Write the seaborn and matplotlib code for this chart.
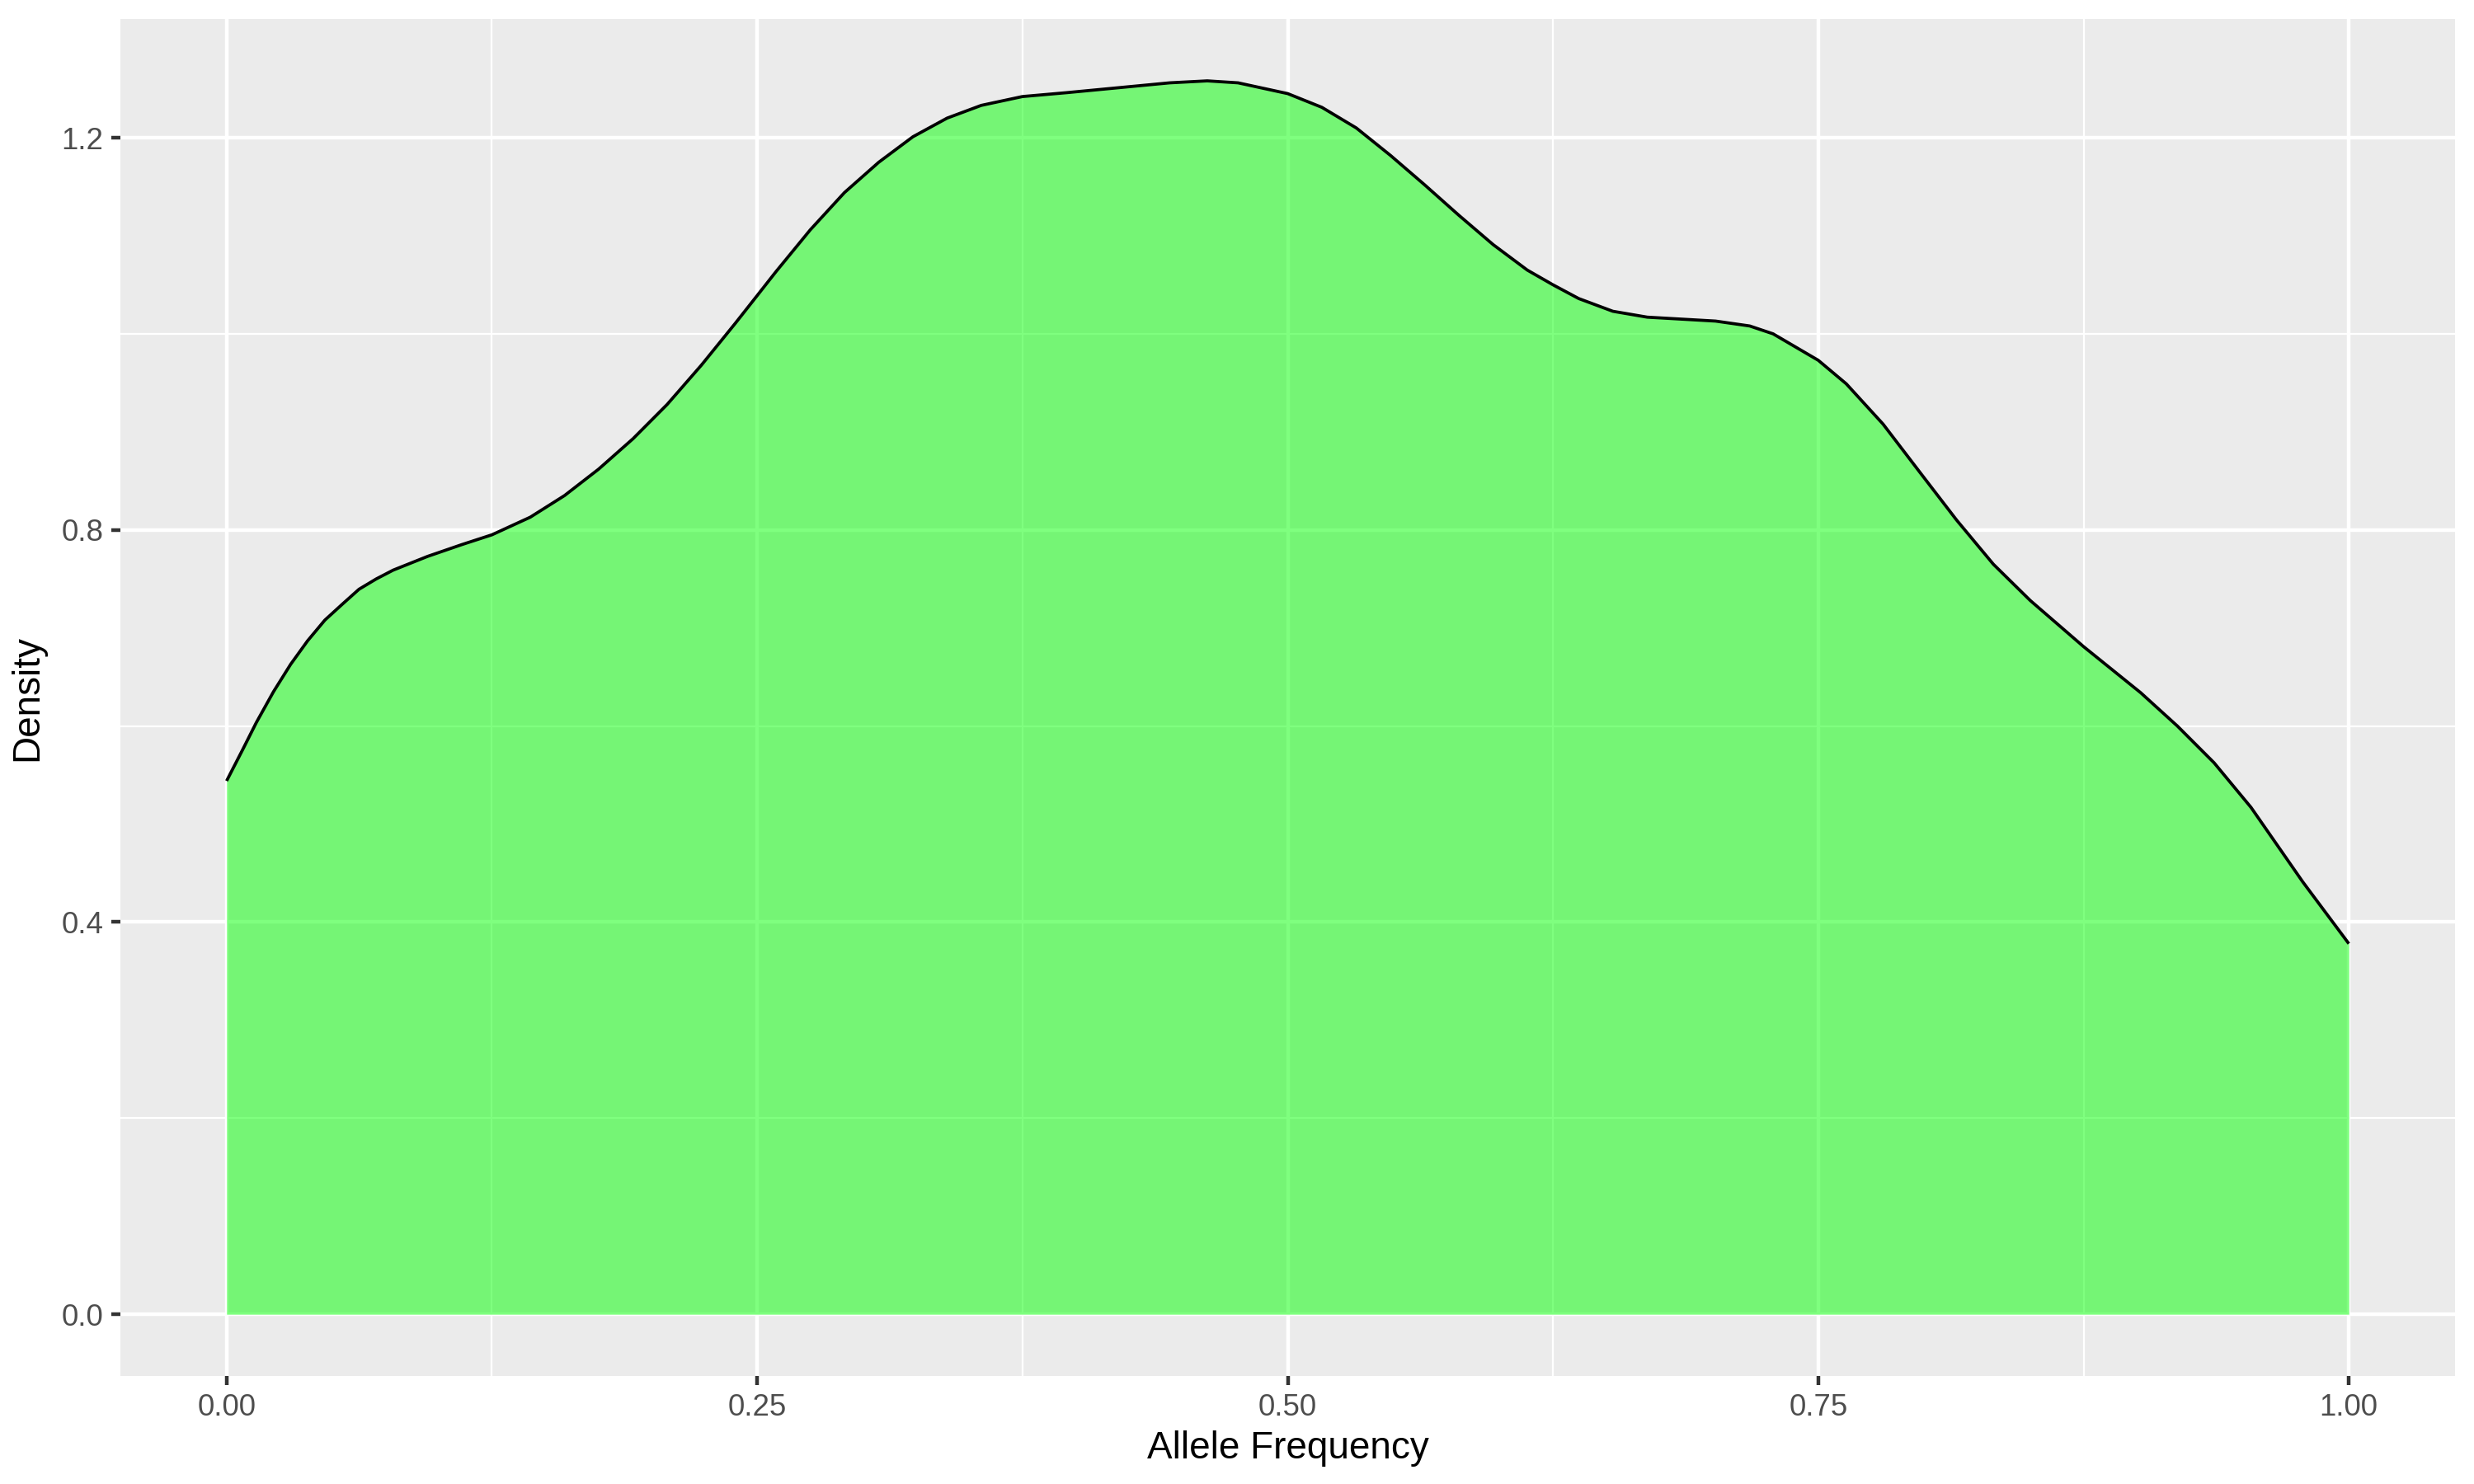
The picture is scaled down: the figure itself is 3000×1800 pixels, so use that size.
import matplotlib
matplotlib.use("Agg")
import matplotlib.pyplot as plt
import seaborn as sns
import pandas as pd
from matplotlib.ticker import FixedLocator

# Density curve values
allele_freq = [0.0, 0.0076, 0.014, 0.0221, 0.0302, 0.0382, 0.0463, 0.0544, 0.0624,
               0.0705, 0.0785, 0.0947, 0.1108, 0.125, 0.1431, 0.1592, 0.1753, 0.1915,
               0.2076, 0.2237, 0.2398, 0.25, 0.2589, 0.275, 0.2911, 0.3073, 0.3234,
               0.3395, 0.3556, 0.375, 0.396, 0.4202, 0.4444, 0.4621, 0.4766, 0.5,
               0.5161, 0.5323, 0.5484, 0.5645, 0.5806, 0.5968, 0.6129, 0.625, 0.6371,
               0.6532, 0.6694, 0.6855, 0.7016, 0.7177, 0.7287, 0.75, 0.7632, 0.7805,
               0.7978, 0.8152, 0.8325, 0.8499, 0.875, 0.9019, 0.9192, 0.9365, 0.9539,
               0.9783, 1.0]
density = [0.544, 0.576, 0.6035, 0.635, 0.663, 0.687, 0.708, 0.724, 0.7395,
           0.750, 0.759, 0.773, 0.785, 0.795, 0.813, 0.835, 0.862, 0.893,
           0.928, 0.968, 1.011, 1.039, 1.0635, 1.106, 1.144, 1.175, 1.201,
           1.220, 1.233, 1.242, 1.246, 1.251, 1.256, 1.258, 1.256, 1.245,
           1.231, 1.210, 1.182, 1.152, 1.121, 1.091, 1.065, 1.050, 1.036,
           1.023, 1.017, 1.015, 1.013, 1.008, 1.000, 0.973, 0.949, 0.908,
           0.859, 0.810, 0.765, 0.728, 0.681, 0.634, 0.600, 0.5625, 0.517,
           0.441, 0.378]

x_ticks = [0.0, 0.25, 0.5, 0.75, 1.0]
x_tick_labels = ["0.00", "0.25", "0.50", "0.75", "1.00"]
x_minor = [0.125, 0.375, 0.625, 0.875]
y_ticks = [0.0, 0.4, 0.8, 1.2]
y_tick_labels = ["0.0", "0.4", "0.8", "1.2"]
y_minor = [0.2, 0.6, 1.0]

df = pd.DataFrame({"Allele Frequency": allele_freq, "Density": density})

sns.set_theme(style="white")
plt.rcParams["font.family"] = ["Liberation Sans", "DejaVu Sans"]

fig = plt.figure(figsize=(10, 6), dpi=300)
ax = fig.add_axes([0.0487, 0.0728, 0.9436, 0.9142])
ax.set_facecolor("#EBEBEB")
for s in ax.spines.values():
    s.set_visible(False)

ax.set_xlim(-0.05, 1.05)
ax.set_ylim(-0.0629, 1.3208)

ax.xaxis.set_major_locator(FixedLocator(x_ticks))
ax.set_xticklabels(x_tick_labels)
ax.yaxis.set_major_locator(FixedLocator(y_ticks))
ax.set_yticklabels(y_tick_labels)
ax.xaxis.set_minor_locator(FixedLocator(x_minor))
ax.yaxis.set_minor_locator(FixedLocator(y_minor))

ax.grid(which="major", color="white", linewidth=1.07, zorder=0)
ax.grid(which="minor", color="white", linewidth=0.53, zorder=0)
ax.set_axisbelow(True)

ax.fill_between(df["Allele Frequency"], 0, df["Density"], color="#00FF00",
                alpha=0.5, linewidth=0, zorder=2)
sns.lineplot(data=df, x="Allele Frequency", y="Density", color="black",
             linewidth=0.9, ax=ax, zorder=3, sort=True,
             solid_joinstyle="round", solid_capstyle="butt")

ax.tick_params(axis="both", which="major", length=2.75, width=1.07,
               color="#333333", labelcolor="#4D4D4D", labelsize=8.8,
               direction="out", pad=2.2, bottom=True, left=True)
ax.tick_params(axis="both", which="minor", length=0)

ax.set_xlabel("Allele Frequency", fontsize=11, color="black", labelpad=2.5)
ax.set_ylabel("Density", fontsize=11, color="black", labelpad=4.5)

fig.savefig("out.png", dpi=300)
